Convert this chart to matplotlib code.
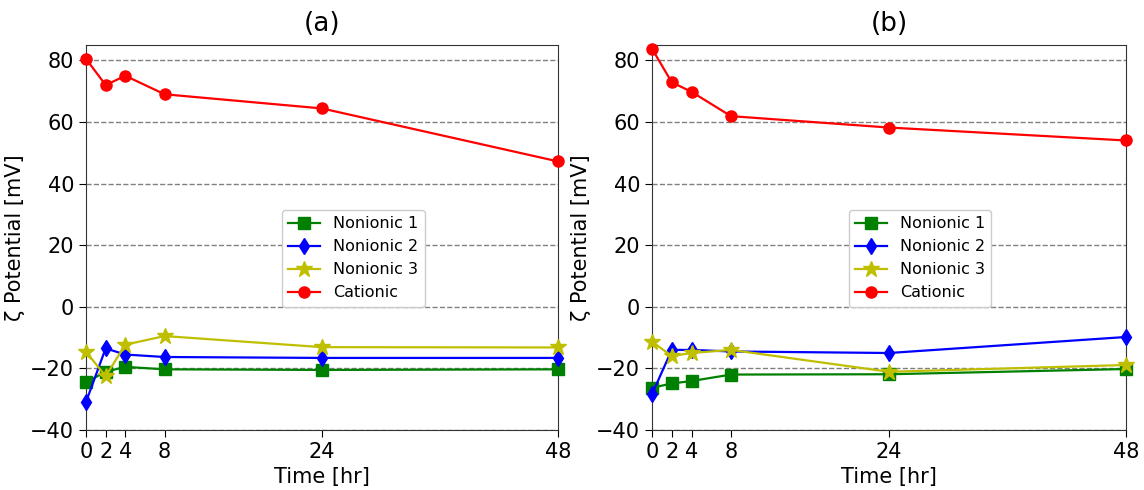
import numpy as np
import matplotlib
matplotlib.use('Agg')
from matplotlib import pyplot as plt

# sampling times [hr]
time = [0, 2, 4, 8, 24, 48]

# panel (a) zeta potentials [mV]
a_nonionic1 = [-24.5, -21.1, -19.5, -20.3, -20.5, -20.3]
a_nonionic2 = [-30.9, -13.5, -15.5, -16.3, -16.6, -16.6]
a_nonionic3 = [-14.6, -22.5, -12.3, -9.5, -13.1, -13.2]
a_cationic = [80.5, 72.0, 75.0, 69.0, 64.4, 47.2]

# panel (b) zeta potentials [mV]
b_nonionic1 = [-26.3, -24.9, -24.1, -22.0, -21.9, -20.2]
b_nonionic2 = [-28.4, -14.0, -14.0, -14.5, -15.0, -9.8]
b_nonionic3 = [-11.3, -16.0, -15.0, -14.0, -21.1, -18.9]
b_cationic = [83.8, 72.9, 69.8, 61.9, 58.2, 54.0]

labels = ['Nonionic 1', 'Nonionic 2', 'Nonionic 3', 'Cationic']
colors = ['g', 'b', 'y', 'r']
markers = ['s', 'd', '*', 'o']
msizes = [8, 8, 12, 8]

fig = plt.figure(figsize=(11.44, 4.9), dpi=100)
ax1 = fig.add_axes([86/1144, 60/490, 472/1144, 385/490])
ax2 = fig.add_axes([652/1144, 60/490, 474/1144, 385/490])

panels = [(ax1, '(a)', [a_nonionic1, a_nonionic2, a_nonionic3, a_cationic]),
          (ax2, '(b)', [b_nonionic1, b_nonionic2, b_nonionic3, b_cationic])]

for ax, title, series in panels:
  for ys, lab, c, m, ms in zip(series, labels, colors, markers, msizes):
    ax.plot(time, ys, color=c, marker=m, markersize=ms, linewidth=1.6, label=lab, clip_on=False, zorder=3)
  ax.set_xlim([0, 48])
  ax.set_ylim([-40, 85])
  ax.set_xticks(time)
  ax.set_yticks(np.arange(-40, 81, 20))
  ax.yaxis.grid(True, linestyle='--', color='gray', linewidth=1)
  ax.set_axisbelow(True)
  ax.tick_params(labelsize=15, length=5)
  ax.set_xlabel('Time [hr]', fontsize=15)
  ax.set_ylabel('ζ Potential [mV]', fontsize=15)
  ax.set_title(title, fontsize=19, pad=10)
  for s in ax.spines.values():
    s.set_color('#333333')
  ax.legend(loc='lower left', bbox_to_anchor=(0.415, 0.32), borderaxespad=0,
            fontsize=11.5, framealpha=1)

plt.savefig('out.png', dpi=100)
